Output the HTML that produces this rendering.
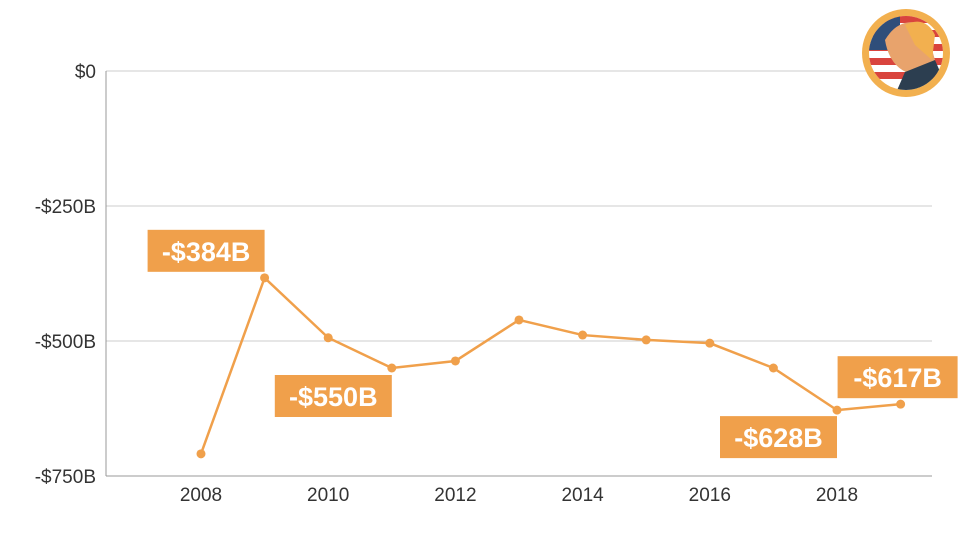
<!DOCTYPE html>
<html><head><meta charset="utf-8"><style>
html,body{margin:0;padding:0;background:#fff;}
svg{display:block;font-family:"Liberation Sans",sans-serif;}
</style></head><body>
<svg id="chart" width="960" height="540">
<g id="grid"></g>
<g id="yaxis"></g>
<g id="xaxis"></g>
<g id="series"></g>
<g id="labels"></g>
<g>
  <circle cx="906" cy="53" r="44" fill="#F2B04F"/>
  <clipPath id="cl"><circle cx="906" cy="53" r="37"/></clipPath>
  <g clip-path="url(#cl)">
    <rect x="860" y="10" width="95" height="90" fill="#fff"/>
    <rect x="860" y="16" width="95" height="7" fill="#D9443D"/>
    <rect x="860" y="30" width="95" height="7" fill="#D9443D"/>
    <rect x="860" y="44" width="95" height="7" fill="#D9443D"/>
    <rect x="860" y="58" width="95" height="7" fill="#D9443D"/>
    <rect x="860" y="72" width="95" height="7" fill="#D9443D"/>
    <rect x="860" y="10" width="40" height="40" fill="#2F4E7A"/>
    <path d="M885 40 Q900 15 925 25 L935 60 L915 75 Q890 70 885 40Z" fill="#E8A36C"/>
    <path d="M905 25 Q925 15 935 35 L932 60 L915 45Z" fill="#F2B04F"/>
    <path d="M895 95 L905 72 L935 60 L950 95Z" fill="#2C3E50"/>
  </g>
</g>
</svg>
<script>
const years=[2008,2009,2010,2011,2012,2013,2014,2015,2016,2017,2018,2019];
const values=[-709,-383,-494,-550,-537,-461,-489,-498,-504,-550,-628,-617];
const yTicks=[0,-250,-500,-750];
const yTickLabels=["$0","-$250B","-$500B","-$750B"];
const xTicks=[2008,2010,2012,2014,2016,2018];
const callYears=[2009,2011,2018,2019];
const callText=["-$384B","-$550B","-$628B","-$617B"];
const NS="http://www.w3.org/2000/svg";
const X=y=>201+(y-2008)*63.6;
const Y=v=>71+(-v)*0.54;
function mk(p,t,a){const e=document.createElementNS(NS,t);for(const k in a)e.setAttribute(k,a[k]);document.getElementById(p).appendChild(e);return e;}
yTicks.forEach((v,i)=>{
  const l=mk('grid','line',{x1:106,x2:932,y1:Y(v),y2:Y(v),stroke:i==3?'#999':'#ccc','stroke-width':1});
  
  
  const t=mk('yaxis','text',{x:96,y:Y(v)+7,'text-anchor':'end','font-size':19,fill:'#333'});
  t.textContent=yTickLabels[i];
  
  
});
const ax=mk('yaxis','line',{x1:106,x2:106,y1:Y(0),y2:Y(-750),stroke:'#999','stroke-width':1});


xTicks.forEach(y=>{
  const t=mk('xaxis','text',{x:X(y),y:501,'text-anchor':'middle','font-size':19,fill:'#333'});
  t.textContent=y;
  
  
});
const pl=mk('series','polyline',{points:years.map((y,i)=>X(y)+','+Y(values[i])).join(' '),fill:'none',stroke:'#F0A04B','stroke-width':2.5});


years.forEach((y,i)=>{
  const c=mk('series','circle',{cx:X(y),cy:Y(values[i]),r:4.5,fill:'#F0A04B'});
  
  
});
const offs=[[-117,-48],[-117,7],[-117,6],[-63,-48]];
const widths=[117,117,117,120];
callYears.forEach((y,i)=>{
  const v=values[years.indexOf(y)];
  const bx=X(y)+offs[i][0], by=Y(v)+offs[i][1];
  const r=mk('labels','rect',{x:bx,y:by,width:widths[i],height:42,fill:'#F0A04B'});
  
  
  const t=mk('labels','text',{x:bx+widths[i]/2,y:by+31,'text-anchor':'middle','font-size':27,'font-weight':'bold',fill:'#fff'});
  t.textContent=callText[i];
  
  
});
</script>
</body></html>
